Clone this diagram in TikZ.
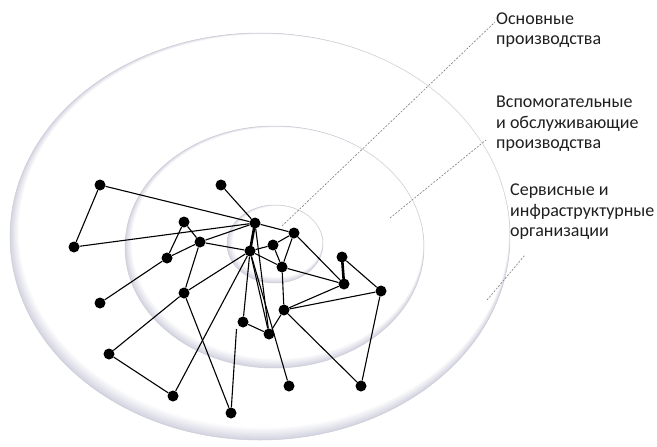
\documentclass[tikz,border=0pt]{standalone}
\usepackage{fontspec}
\setmainfont{Carlito}
\definecolor{ringc}{RGB}{212,212,226}
\definecolor{ringline}{RGB}{205,205,212}
\definecolor{leadc}{RGB}{125,125,125}
\pgfdeclarelayer{back}
\pgfdeclarelayer{mid}
\pgfsetlayers{back,mid,main}
\newcommand{\ringband}[8]{%
  \foreach \i in {0,...,16}{%
    \pgfmathsetmacro\cx{#1+(#5-#1)*\i/16}%
    \pgfmathsetmacro\cy{#2+(#6-#2)*\i/16}%
    \pgfmathsetmacro\rx{#3+(#7-#3)*\i/16}%
    \pgfmathsetmacro\ry{#4+(#8-#4)*\i/16}%
    \pgfmathtruncatemacro\p{100-100*\i/16}%
    \fill[ringc!\p!white] (\cx,\cy) ellipse [x radius=\rx pt, y radius=\ry pt];
  }%
  \draw[ringline,line width=0.5pt] (#1,#2) ellipse [x radius=#3pt, y radius=#4pt];
}
\begin{document}
\begin{tikzpicture}[x=1pt,y=-1pt,
  dot/.style={circle,fill=black,inner sep=0pt,minimum size=11pt},
  edge/.style={black,line width=1.1pt},
  thickedge/.style={black,line width=2.6pt},
  leaderline/.style={leadc,line width=0.6pt,dash pattern=on 2pt off 1.5pt},
  lbl/.style={align=left,anchor=base west,inner sep=0pt,text=black!88,
    font=\fontsize{18}{20.5}\selectfont}]
\useasboundingbox (0,0) rectangle (657,447);

\begin{pgfonlayer}{back}
\fill[white] (0,0) rectangle (657,447);
\ringband{260}{236.5}{250}{203.5}{264}{231}{245}{196.5}
\ringband{274.5}{247}{149.5}{121}{277.5}{243}{145.5}{115.5}
\ringband{275}{244}{48}{39}{277.5}{241.5}{44.5}{35.5}
\end{pgfonlayer}

% labels (anchor = baseline of the last line)
\node[lbl] (t1) at (496,45) {Основные\\производства};
\node[lbl] (t2) at (496,148.5) {Вспомогательные\\и обслуживающие\\производства};
\node[lbl] (t3) at (510,236.5) {Сервисные и\\инфраструктурные\\организации};

% leader lines
\coordinate (l1a) at (282,226);
\coordinate (l1b) at (495,22);
\coordinate (l2a) at (390,218);
\coordinate (l2b) at (486,140);
\coordinate (l3a) at (487,300);
\coordinate (l3b) at (525,255);
\begin{pgfonlayer}{back}
\draw[leaderline] (l1a) -- (l1b);
\draw[leaderline] (l2a) -- (l2b);
\draw[leaderline] (l3a) -- (l3b);
\end{pgfonlayer}

% dots
\node[dot] (A) at (100,185) {};
\node[dot] (B) at (221,185) {};
\node[dot] (C) at (255,223) {};
\node[dot] (D) at (74,247) {};
\node[dot] (E) at (184,222) {};
\node[dot] (F) at (200,242) {};
\node[dot] (G) at (250,251) {};
\node[dot] (H) at (273,245) {};
\node[dot] (I) at (294,233) {};
\node[dot] (J) at (167,258) {};
\node[dot] (K) at (282,267) {};
\node[dot] (L) at (342,257) {};
\node[dot] (M) at (344,284) {};
\node[dot] (N) at (381,291) {};
\node[dot] (O) at (184,293) {};
\node[dot] (P) at (100,303) {};
\node[dot] (Q) at (284,310) {};
\node[dot] (R) at (243,322) {};
\node[dot] (S) at (269,334) {};
\node[dot] (T) at (109,354) {};
\node[dot] (U) at (173,396) {};
\node[dot] (V) at (289,386) {};
\node[dot] (W) at (361,386) {};
\node[dot] (X) at (231,413) {};
\coordinate (Xtop) at (236.5,329);

\begin{pgfonlayer}{mid}
\draw[edge] (A) -- (D);
\draw[edge] (A) -- (C);
\draw[edge] (D) -- (C);
\draw[edge] (B) -- (C);
\draw[thickedge] (C.center) -- (G.center);
\draw[edge] (C) -- (I);
\draw[edge] (E) -- (J);
\draw[edge] (E) -- (F);
\draw[edge] (F) -- (C);
\draw[edge] (F) -- (G);
\draw[edge] (P) -- (J);
\draw[edge] (J) -- (F);
\draw[edge] (F) -- (O);
\draw[edge] (G) -- (H);
\draw[edge] (G) -- (K);
\draw[edge] (H) -- (I);
\draw[edge] (H) -- (K);
\draw[edge] (I) -- (K);
\draw[edge] (I) -- (M);
\draw[edge] (K) -- (M);
\draw[edge] (K) -- (Q);
\draw[thickedge] (L.center) -- (M.center);
\draw[edge] (L) -- (N);
\draw[edge] (M) -- (Q);
\draw[edge] (N) -- (Q);
\draw[edge] (N) -- (W);
\draw[edge] (Q) -- (W);
\draw[edge] (Q) -- (S);
\draw[edge] (R) -- (S);
\draw[edge] (G) -- (R);
\draw[edge] (G) -- (S);
\draw[edge] (C) -- (S);
\draw[edge] (G) -- (V);
\draw[edge] (G) -- (O);
\draw[edge] (G) -- (U);
\draw[edge] (O) -- (T);
\draw[edge] (T) -- (U);
\draw[edge] (O) -- (X);
\draw[edge] (X) -- (Xtop);
\end{pgfonlayer}
\end{tikzpicture}
\end{document}
